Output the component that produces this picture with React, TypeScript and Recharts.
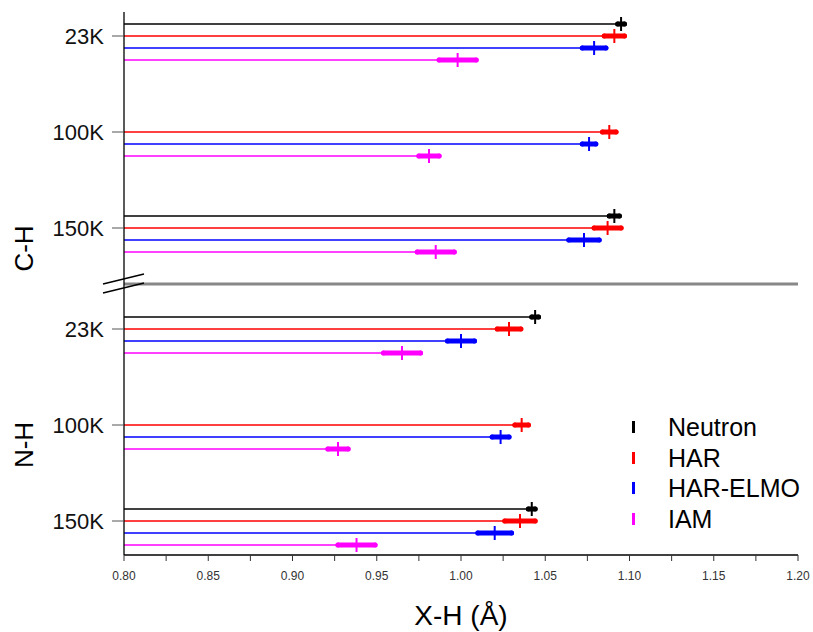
import { BarChart, Bar, XAxis, YAxis, ErrorBar, Legend } from "recharts"

const temperatures = ["23K", "100K", "150K"]
const seriesNames = ["Neutron", "HAR", "HAR-ELMO", "IAM"]
const seriesKeys = ["neutron", "har", "elmo", "iam"]
const seriesColors = ["#000000", "#ff0000", "#0000ff", "#ff00ff"]

// C-H bond lengths (Å), one entry per temperature
const chNeutron = [1.095, null, 1.091]
const chNeutronErr = [0.002, null, 0.003]
const chHar = [1.091, 1.088, 1.087]
const chHarErr = [0.006, 0.004, 0.008]
const chElmo = [1.079, 1.076, 1.073]
const chElmoErr = [0.007, 0.004, 0.009]
const chIam = [0.998, 0.981, 0.985]
const chIamErr = [0.011, 0.006, 0.011]

// N-H bond lengths (Å)
const nhNeutron = [1.044, null, 1.042]
const nhNeutronErr = [0.002, null, 0.002]
const nhHar = [1.0285, 1.036, 1.035]
const nhHarErr = [0.007, 0.004, 0.009]
const nhElmo = [1.0, 1.0235, 1.020]
const nhElmoErr = [0.008, 0.005, 0.010]
const nhIam = [0.965, 0.927, 0.938]
const nhIamErr = [0.011, 0.006, 0.011]

const xMajorTicks = [0.8, 0.85, 0.9, 0.95, 1.0, 1.05, 1.1, 1.15, 1.2]
const xMinorTicks = [0.825, 0.875, 0.925, 0.975, 1.025, 1.075, 1.125, 1.175]

type Row = { id: string; [k: string]: any }

function buildRows(bond: string, values: (number | null)[][], errors: (number | null)[][]) {
  const rows: Row[] = []
  temperatures.forEach((t, ti) => {
    seriesKeys.forEach((k, si) => {
      const row: Row = { id: `${bond}-${t}-${k}` }
      row[k] = values[si][ti]
      row[k + "Err"] = errors[si][ti]
      rows.push(row)
    })
    // empty slots between temperature groups
    if (ti < temperatures.length - 1) {
      for (let g = 0; g < 4; g++) rows.push({ id: `${bond}-gap-${ti}-${g}` })
    }
  })
  return rows
}

const chRows = buildRows("CH", [chNeutron, chHar, chElmo, chIam], [chNeutronErr, chHarErr, chElmoErr, chIamErr])
const nhRows = buildRows("NH", [nhNeutron, nhHar, nhElmo, nhIam], [nhNeutronErr, nhHarErr, nhElmoErr, nhIamErr])

const lineShape = (key: string) => (p: any) => {
  if (p.payload == null || p.payload[key] == null) return <g />
  const cy = p.y + p.height / 2
  const end = p.x + p.width
  return (
    <g>
      <line x1={p.x} x2={end} y1={cy} y2={cy} stroke={p.fill} strokeWidth={1.6} />
      <line x1={end} x2={end} y1={cy - 7} y2={cy + 7} stroke={p.fill} strokeWidth={2} />
    </g>
  )
}

const sideLabel = (text: string, cy: number) => () => (
  <text
    x={16}
    y={cy}
    transform={`rotate(-90 16 ${cy})`}
    textAnchor="middle"
    dominantBaseline="central"
    fontSize={26}
    fill="#000"
  >
    {text}
  </text>
)

function seriesBars() {
  return seriesKeys.map((k, i) => (
    <Bar
      key={k}
      dataKey={k}
      name={seriesNames[i]}
      fill={seriesColors[i]}
      shape={lineShape(k)}
      isAnimationActive={false}
    >
      <ErrorBar
        dataKey={k + "Err"}
        direction="x"
        width={0}
        stroke={seriesColors[i]}
        strokeWidth={5}
        strokeLinecap="round"
        isAnimationActive={false}
      />
    </Bar>
  ))
}

const tempLabel = (id: string) => id.split("-")[1]

export default function App() {
  const allXTicks = [...xMajorTicks, ...xMinorTicks].sort((a, b) => a - b)

  return (
    <div style={{ position: "relative", width: 813, height: 632, fontFamily: "'Liberation Sans', Arial, sans-serif" }}>
      <style>{"body { margin: 0; }"}</style>
      <div style={{ position: "absolute", left: 8, top: 8, width: 805, height: 624 }}>
        <div style={{ position: "absolute", left: 0, top: 0 }}>
          <BarChart
            width={805}
            height={278}
            data={chRows}
            layout="vertical"
            barSize={2}
            barGap={-2}
            margin={{ top: 4, right: 15, left: 0, bottom: 0 }}
          >
            <XAxis
              type="number"
              domain={[0.8, 1.2]}
              height={2}
              tick={false}
              tickLine={false}
              axisLine={{ stroke: "#888", strokeWidth: 3 }}
            />
            <YAxis
              type="category"
              dataKey="id"
              width={116}
              padding={{ top: 6, bottom: 26 }}
              ticks={temperatures.map((t) => `CH-${t}-har`)}
              interval={0}
              tickFormatter={tempLabel}
              tickSize={12}
              tickMargin={8}
              tick={{ fontSize: 22, fill: "#111" }}
              tickLine={{ stroke: "#555" }}
              axisLine={{ stroke: "#000", strokeWidth: 1.3 }}
              label={{ value: "C-H", content: sideLabel("C-H", 240.5) }}
            />
            {seriesBars()}
          </BarChart>
        </div>

        <div style={{ position: "absolute", left: 0, top: 276 }}>
          <BarChart
            width={805}
            height={348}
            data={nhRows}
            layout="vertical"
            barSize={2}
            barGap={-2}
            margin={{ top: 0, right: 15, left: 0, bottom: 0 }}
          >
            <XAxis
              type="number"
              domain={[0.8, 1.2]}
              ticks={allXTicks}
              interval={0}
              height={77}
              tickFormatter={(v: number) => (xMajorTicks.includes(v) ? v.toFixed(2) : "")}
              tick={{ fontSize: 12, fill: "#333" }}
              tickSize={6}
              tickMargin={10}
              tickLine={{ stroke: "#333" }}
              axisLine={{ stroke: "#000", strokeWidth: 1.3 }}
              label={{ value: "X-H (Å)", position: "insideBottom", offset: 7, fontSize: 28, fill: "#000" }}
            />
            <YAxis
              type="category"
              dataKey="id"
              width={116}
              padding={{ top: 27, bottom: 4 }}
              ticks={temperatures.map((t) => `NH-${t}-har`)}
              interval={0}
              tickFormatter={tempLabel}
              tickSize={12}
              tickMargin={8}
              tick={{ fontSize: 22, fill: "#111" }}
              tickLine={{ stroke: "#555" }}
              axisLine={{ stroke: "#000", strokeWidth: 1.3 }}
              label={{ value: "N-H", content: sideLabel("N-H", 161) }}
            />
            <Legend
              layout="vertical"
              align="center"
              verticalAlign="middle"
              wrapperStyle={{ position: "absolute", left: 623, top: 128, width: 180 }}
              content={() => (
                <div>
                  {seriesNames.map((n, i) => (
                    <div key={n} style={{ display: "flex", alignItems: "center", height: 30.5 }}>
                      <span style={{ display: "inline-block", width: 3, height: 12, marginLeft: 0.5, background: seriesColors[i] }} />
                      <span style={{ marginLeft: 33.5, fontSize: 25, lineHeight: "30.5px", color: "#000" }}>{n}</span>
                    </div>
                  ))}
                </div>
              )}
            />
            {seriesBars()}
          </BarChart>
        </div>

        {/* axis break marks */}
        <svg width={805} height={624} style={{ position: "absolute", left: 0, top: 0, pointerEvents: "none" }}>
          <line x1={95} y1={276} x2={136} y2={266} stroke="#000" strokeWidth={1.5} />
          <line x1={95} y1={285} x2={136} y2={275} stroke="#000" strokeWidth={1.5} />
        </svg>
      </div>
    </div>
  )
}
